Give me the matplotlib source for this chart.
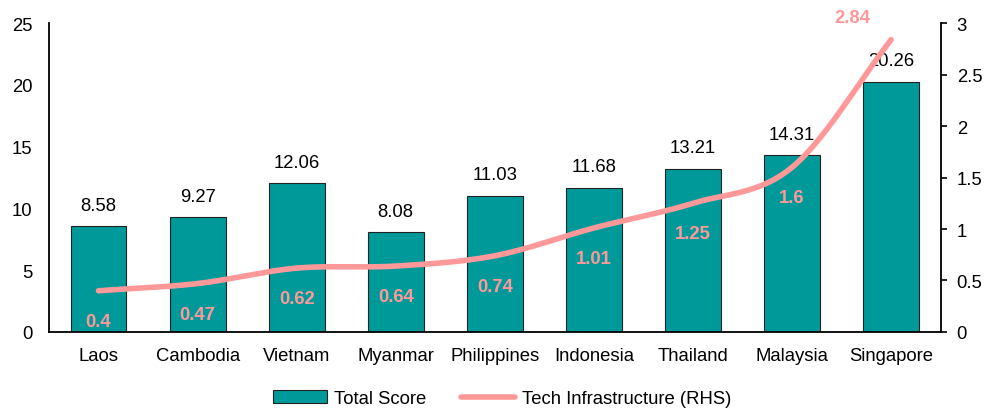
#!/usr/bin/env python3
import matplotlib
matplotlib.use("Agg")
import matplotlib.pyplot as plt
import numpy as np

countries = ["Laos", "Cambodia", "Vietnam", "Myanmar", "Philippines",
             "Indonesia", "Thailand", "Malaysia", "Singapore"]
total_score = [8.58, 9.27, 12.06, 8.08, 11.03, 11.68, 13.21, 14.31, 20.26]
tech_infra = [0.4, 0.47, 0.62, 0.64, 0.74, 1.01, 1.25, 1.6, 2.84]

left_ticks = [0, 5, 10, 15, 20, 25]
right_ticks = [0, 0.5, 1, 1.5, 2, 2.5, 3]
right_ticklabels = ["0", "0.5", "1", "1.5", "2", "2.5", "3"]


def smooth(xs, ys, n=30):
    # catmull-rom style curve like excel's smoothed line
    xs = np.asarray(xs, float)
    ys = np.asarray(ys, float)
    px = np.concatenate([[2 * xs[0] - xs[1]], xs, [2 * xs[-1] - xs[-2]]])
    py = np.concatenate([[2 * ys[0] - ys[1]], ys, [2 * ys[-1] - ys[-2]]])
    outx, outy = [], []
    t = np.linspace(0, 1, n)
    for i in range(1, len(px) - 2):
        for p, out in ((px, outx), (py, outy)):
            p0, p1, p2, p3 = p[i - 1], p[i], p[i + 1], p[i + 2]
            seg = 0.5 * ((2 * p1) + (-p0 + p2) * t
                         + (2 * p0 - 5 * p1 + 4 * p2 - p3) * t ** 2
                         + (-p0 + 3 * p1 - 3 * p2 + p3) * t ** 3)
            out.extend(seg)
    return np.array(outx), np.array(outy)


fs = 13.3
plt.rcParams["font.family"] = ["Liberation Sans", "DejaVu Sans"]
plt.rcParams["font.size"] = fs

fig = plt.figure(figsize=(9.85, 4.1), dpi=100)
ax = fig.add_axes([0.0497, 0.188, 0.9053, 0.753])
x = np.arange(len(countries))

bar_color = "#009999"
line_color = "#FF9999"

ax.bar(x, total_score, width=0.565, color=bar_color, edgecolor="#222222",
       linewidth=0.8, label="Total Score", zorder=2)
for xi, v in zip(x, total_score):
    ax.annotate(f"{v:.2f}", (xi, v), xytext=(0, 15), textcoords="offset points",
                ha="center", va="center", fontsize=fs, color="black")

ax.set_xlim(-0.5, len(countries) - 0.5)
ax.set_ylim(0, 25)
ax.set_yticks(left_ticks)
ax.set_xticks(x)
ax.set_xticklabels(countries)
ax.tick_params(axis="x", length=0, pad=11)
ax.tick_params(axis="y", length=0, pad=12)
ax.spines["top"].set_visible(False)
ax.spines["right"].set_visible(False)
for s in ("left", "bottom"):
    ax.spines[s].set_linewidth(1.3)

ax2 = ax.twinx()
sx, sy = smooth(x, tech_infra)
ax2.plot(sx, sy, color=line_color, linewidth=4, solid_capstyle="round",
         label="Tech Infrastructure (RHS)", zorder=3)
ax2.set_ylim(0, 3)
ax2.set_yticks(right_ticks)
ax2.set_yticklabels(right_ticklabels)
ax2.tick_params(axis="y", direction="out", length=4.5, width=1.2, pad=7)
for s in ("top", "left", "bottom"):
    ax2.spines[s].set_visible(False)
ax2.spines["right"].set_linewidth(1.3)

for i, (xi, v) in enumerate(zip(x, tech_infra)):
    label = f"{v:g}"
    if i == len(tech_infra) - 1:
        ax2.annotate(label, (xi, v), xytext=(-28, 16), textcoords="offset points",
                     ha="center", va="center", color=line_color,
                     fontweight="bold", fontsize=fs)
    else:
        ax2.annotate(label, (xi, v), xytext=(0, -22), textcoords="offset points",
                     ha="center", va="center", color=line_color,
                     fontweight="bold", fontsize=fs)

h1, l1 = ax.get_legend_handles_labels()
h2, l2 = ax2.get_legend_handles_labels()
fig.legend(h1 + h2, l1 + l2, loc="center", bbox_to_anchor=(0.51, 0.025),
           ncol=2, frameon=False, handlelength=2.9, handleheight=0.7,
           handletextpad=0.4, columnspacing=1.9, fontsize=fs)

fig.savefig("out.png", dpi=100)
